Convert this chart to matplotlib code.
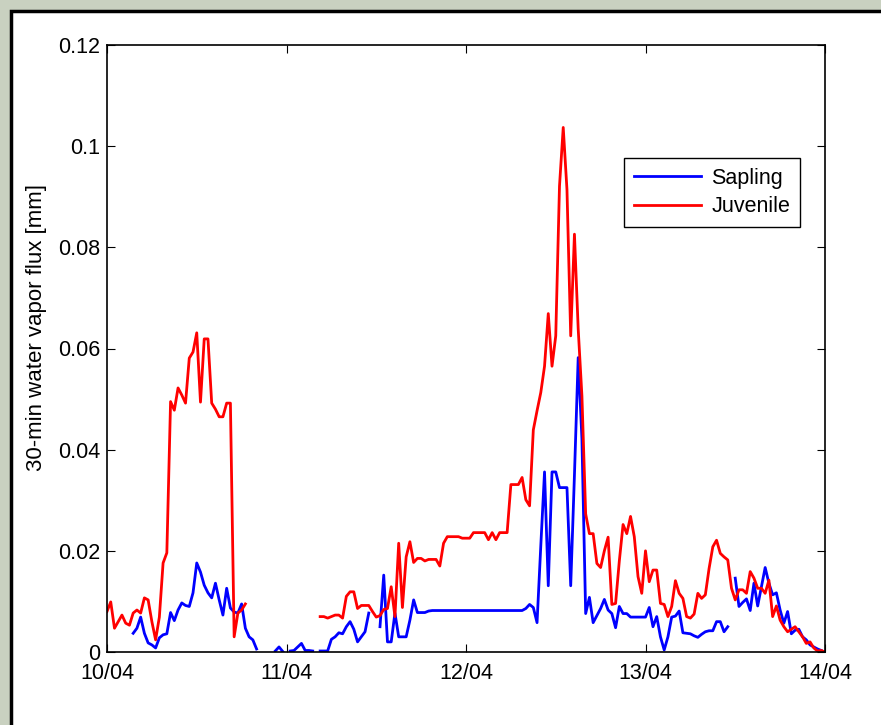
import numpy as np
import matplotlib.pyplot as plt
from matplotlib.patches import Rectangle

nan = np.nan

# half-hourly samples from 10/04 00:00 to 14/04 00:00 (193 points)
day_labels = ["10/04", "11/04", "12/04", "13/04", "14/04"]
y_ticks = [0, 0.02, 0.04, 0.06, 0.08, 0.1, 0.12]
y_tick_labels = ["0", "0.02", "0.04", "0.06", "0.08", "0.1", "0.12"]

sapling = [
    nan, nan, nan, nan, nan, nan, nan, 0.0037, 0.0047, 0.0069,
    0.0037, 0.0018, 0.0014, 0.0008, 0.0028, 0.0034, 0.0036, 0.0078, 0.0062, 0.0083,
    0.0097, 0.0092, 0.0090, 0.0117, 0.0176, 0.0158, 0.0132, 0.0117, 0.0107, 0.0136,
    0.0103, 0.0073, 0.0126, 0.0087, 0.0079, 0.0077, 0.0095, 0.0047, 0.0030, 0.0024,
    0.0006, nan, nan, nan, nan, 0.0002, 0.0010, 0.0001, nan, 0.0002,
    0.0003, 0.0010, 0.0017, 0.0003, 0.0003, 0.0002, nan, 0.0002, 0.0002, 0.0002,
    0.0025, 0.0030, 0.0038, 0.0036, 0.0050, 0.0060, 0.0045, 0.0020, 0.0030, 0.0040,
    0.0077, nan, nan, 0.0050, 0.0152, 0.0020, 0.0020, 0.0077, 0.0030, 0.0030,
    0.0030, 0.0063, 0.0103, 0.0078, 0.0078, 0.0078, 0.0081, 0.0082, 0.0082, 0.0082,
    0.0082, 0.0082, 0.0082, 0.0082, 0.0082, 0.0082, 0.0082, 0.0082, 0.0082, 0.0082,
    0.0082, 0.0082, 0.0082, 0.0082, 0.0082, 0.0082, 0.0082, 0.0082, 0.0082, 0.0082,
    0.0082, 0.0082, 0.0086, 0.0094, 0.0088, 0.0058, 0.0210, 0.0356, 0.0131, 0.0356,
    0.0356, 0.0325, 0.0325, 0.0325, 0.0131, 0.0350, 0.0582, 0.0421, 0.0076, 0.0108,
    0.0058, 0.0072, 0.0086, 0.0104, 0.0083, 0.0076, 0.0048, 0.0090, 0.0076, 0.0076,
    0.0069, 0.0069, 0.0069, 0.0069, 0.0069, 0.0088, 0.0050, 0.0070, 0.0030, 0.0004,
    0.0030, 0.0069, 0.0071, 0.0081, 0.0038, 0.0037, 0.0036, 0.0032, 0.0029, 0.0035,
    0.0040, 0.0042, 0.0042, 0.0060, 0.0060, 0.0040, 0.0050, nan, 0.0146, 0.0090,
    0.0098, 0.0105, 0.0082, 0.0136, 0.0091, 0.0129, 0.0167, 0.0136, 0.0113, 0.0117,
    0.0083, 0.0057, 0.0080, 0.0036, 0.0043, 0.0045, 0.0030, 0.0024, 0.0014, 0.0010,
    0.0006, 0.0003, nan,
]

juvenile = [
    0.0080, 0.0099, 0.0047, 0.0060, 0.0073, 0.0057, 0.0053, 0.0077, 0.0083, 0.0077,
    0.0107, 0.0103, 0.0060, 0.0024, 0.0069, 0.0176, 0.0196, 0.0495, 0.0478, 0.0522,
    0.0508, 0.0492, 0.0581, 0.0593, 0.0631, 0.0494, 0.0619, 0.0619, 0.0492, 0.0480,
    0.0465, 0.0465, 0.0492, 0.0492, 0.0030, 0.0077, 0.0083, 0.0095, nan, nan,
    nan, nan, nan, nan, nan, nan, nan, nan, nan, nan,
    nan, nan, nan, nan, nan, nan, nan, 0.0070, 0.0070, 0.0067,
    0.0070, 0.0073, 0.0073, 0.0067, 0.0110, 0.0119, 0.0119, 0.0086, 0.0092, 0.0092,
    0.0092, 0.0080, 0.0069, 0.0072, 0.0084, 0.0086, 0.0129, 0.0070, 0.0215, 0.0088,
    0.0188, 0.0218, 0.0177, 0.0185, 0.0185, 0.0180, 0.0183, 0.0183, 0.0183, 0.0170,
    0.0215, 0.0228, 0.0228, 0.0228, 0.0228, 0.0225, 0.0225, 0.0225, 0.0236, 0.0236,
    0.0236, 0.0236, 0.0222, 0.0236, 0.0222, 0.0236, 0.0236, 0.0236, 0.0331, 0.0331,
    0.0331, 0.0345, 0.0301, 0.0289, 0.0439, 0.0477, 0.0513, 0.0565, 0.0669, 0.0565,
    0.0625, 0.0921, 0.1037, 0.0914, 0.0625, 0.0826, 0.0639, 0.0506, 0.0273, 0.0234,
    0.0234, 0.0175, 0.0167, 0.0200, 0.0227, 0.0094, 0.0096, 0.0180, 0.0252, 0.0234,
    0.0268, 0.0228, 0.0149, 0.0116, 0.0200, 0.0139, 0.0162, 0.0162, 0.0096, 0.0094,
    0.0070, 0.0090, 0.0141, 0.0116, 0.0106, 0.0070, 0.0067, 0.0075, 0.0116, 0.0106,
    0.0113, 0.0165, 0.0208, 0.0221, 0.0195, 0.0188, 0.0182, 0.0126, 0.0103, 0.0123,
    0.0123, 0.0116, 0.0159, 0.0146, 0.0126, 0.0126, 0.0116, 0.0142, 0.0070, 0.0091,
    0.0063, 0.0050, 0.0040, 0.0045, 0.0050, 0.0040, 0.0030, 0.0017, 0.0020, 0.0008,
    0.0002, 0.0003, 0.0,
]

t = np.arange(len(juvenile)) / 48.0  # days since 10/04

plt.rcParams['font.family'] = ['Liberation Sans', 'DejaVu Sans']
fs = 15.5

fig = plt.figure(figsize=(8.81, 7.25), dpi=100, facecolor="#c9d1c0")
# white slide panel behind the axes
panel = Rectangle((11 / 881, -0.05), 1.0, 1.05 - 11 / 725,
                  transform=fig.transFigure, facecolor="white",
                  edgecolor="black", linewidth=2.5, zorder=-10)
fig.patches.append(panel)

ax = fig.add_axes([107 / 881, 1 - 652 / 725, 718 / 881, 607 / 725])
ax.set_zorder(5)
ax.plot(t, sapling, color="#0000ff", linewidth=2, label="Sapling")
ax.plot(t, juvenile, color="#ff0000", linewidth=2, label="Juvenile")

ax.set_xlim(0, 4)
ax.set_ylim(0, 0.12)
ax.set_xticks(range(5))
ax.set_xticklabels(day_labels)
ax.set_yticks(y_ticks)
ax.set_yticklabels(y_tick_labels)
ax.tick_params(direction="in", top=True, right=True, length=6, labelsize=fs, width=0.8)
ax.tick_params(axis="x", pad=8)
ax.tick_params(axis="y", pad=5)
ax.set_ylabel("30-min water vapor flux [mm]", fontsize=16)
ax.yaxis.set_label_coords(-0.084, 0.535)
for s in ax.spines.values():
    s.set_linewidth(1.2)

leg = ax.legend(loc="upper right", bbox_to_anchor=(0.965, 0.814), fontsize=fs,
                fancybox=False, framealpha=1, edgecolor="black", handlelength=3.1,
                handletextpad=0.5, borderpad=0.45, labelspacing=0.35,
                borderaxespad=0)
leg.get_frame().set_linewidth(1.0)

fig.savefig("out.png", dpi=100, facecolor=fig.get_facecolor())
